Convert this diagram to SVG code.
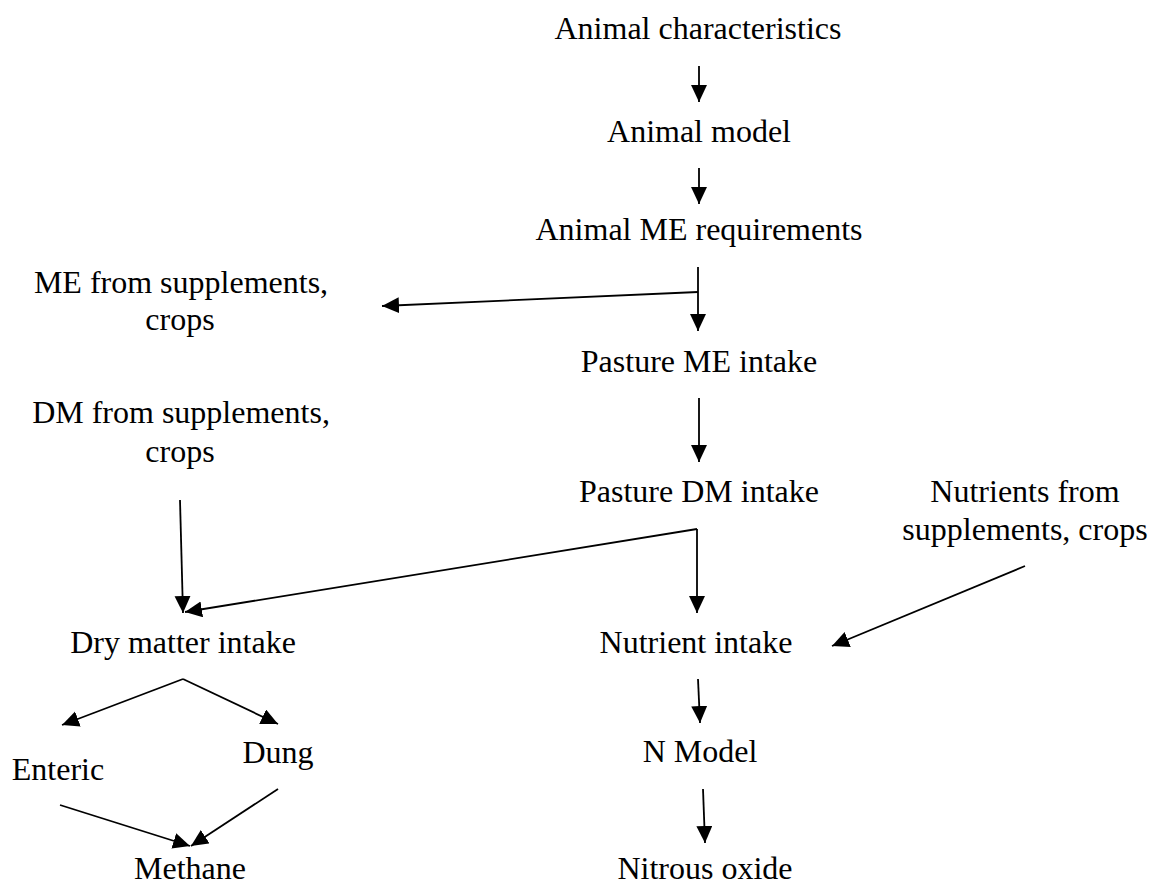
<svg xmlns="http://www.w3.org/2000/svg" width="1150" height="887" viewBox="0 0 1150 887">
<style>
text{font-family:"Liberation Serif","Times New Roman",serif;font-size:32px;fill:#000;text-anchor:middle}
.c line{stroke:#000;stroke-width:1.8;marker-end:url(#ah)}
</style>
<defs>
<marker id="ah" markerUnits="userSpaceOnUse" markerWidth="20" markerHeight="18" refX="17" refY="8" orient="auto">
<path d="M0,0 L17,8 L0,16 z" fill="#000"/>
</marker>
</defs>
<rect width="1150" height="887" fill="#fff"/>
<g id="n-animal-characteristics"><text x="698" y="39">Animal characteristics</text></g>
<g id="n-animal-model"><text x="699" y="142">Animal model</text></g>
<g id="n-animal-me-req"><text x="699" y="240">Animal ME requirements</text></g>
<g id="n-me-supp"><text x="181" y="293">ME from supplements,</text><text x="180" y="330">crops</text></g>
<g id="n-pasture-me"><text x="699" y="372">Pasture ME intake</text></g>
<g id="n-dm-supp"><text x="181" y="423">DM from supplements,</text><text x="180" y="462">crops</text></g>
<g id="n-pasture-dm"><text x="699" y="502">Pasture DM intake</text></g>
<g id="n-nutr-supp"><text x="1025" y="502">Nutrients from</text><text x="1025" y="540">supplements, crops</text></g>
<g id="n-dmi"><text x="183" y="653">Dry matter intake</text></g>
<g id="n-nutrient-intake"><text x="696" y="653">Nutrient intake</text></g>
<g id="n-enteric"><text x="58" y="780">Enteric</text></g>
<g id="n-dung"><text x="278" y="763">Dung</text></g>
<g id="n-nmodel"><text x="700" y="762">N Model</text></g>
<g id="n-methane"><text x="190" y="879">Methane</text></g>
<g id="n-nitrous"><text x="705" y="879">Nitrous oxide</text></g>
<g id="connectors">
<g class="c">
<line x1="699" y1="66" x2="699" y2="102"/>
<line x1="699" y1="168" x2="699" y2="204"/>
<line x1="698" y1="267" x2="698" y2="331"/>
<line x1="698" y1="292" x2="382" y2="306"/>
<line x1="699" y1="398" x2="699" y2="462"/>
<line x1="697" y1="529" x2="697" y2="613"/>
<line x1="697" y1="529" x2="185" y2="612"/>
<line x1="180" y1="500" x2="183" y2="613"/>
<line x1="1025" y1="566" x2="832" y2="646"/>
<line x1="698" y1="679" x2="700" y2="723"/>
<line x1="703" y1="789" x2="705" y2="843"/>
<line x1="183" y1="679" x2="62" y2="725"/>
<line x1="183" y1="679" x2="278" y2="724"/>
<line x1="60" y1="805" x2="190" y2="846"/>
<line x1="278" y1="789" x2="191" y2="846"/>
</g>
</g>
</svg>
